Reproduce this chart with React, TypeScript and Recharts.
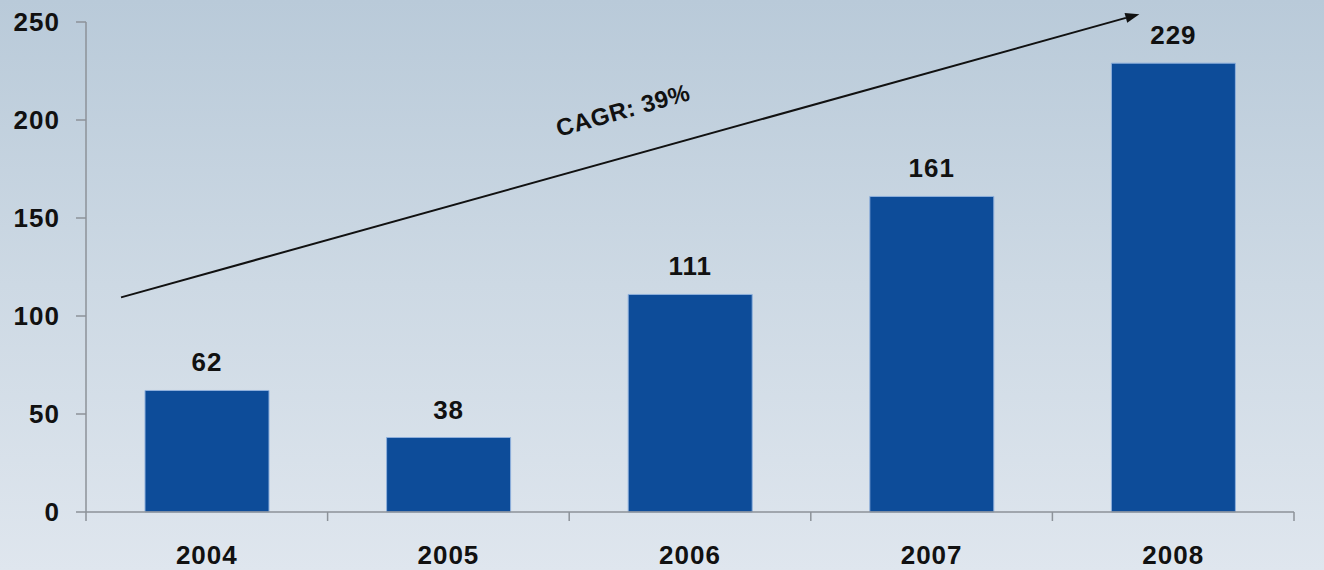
import React from "react";
import {
  ComposedChart,
  Bar,
  XAxis,
  YAxis,
  LabelList,
  ReferenceLine,
} from "recharts";

const years = ["2004", "2005", "2006", "2007", "2008"];
const values = [62, 38, 111, 161, 229];
const yTicks = [0, 50, 100, 150, 200, 250];
// centres carry the year labels, half-steps are the boundary tick marks
const xTicks = [-0.5, 0, 0.5, 1, 1.5, 2, 2.5, 3, 3.5, 4, 4.5];
// CAGR arrow, in (category position, value) units
const arrowFrom = { x: -0.355, y: 109.5 };
const arrowTo = { x: 3.86, y: 254 };
const arrowLabel = "CAGR: 39%";

const data = years.map((year, i) => ({ idx: i, year, value: values[i] }));

const FONT = '"Liberation Sans", Arial, sans-serif';
const AXIS = "#8c9299";

function XTick(props: any) {
  const { x, y, payload } = props;
  const v = payload.value;
  if (Number.isInteger(v)) {
    return (
      <text
        x={x}
        y={y + 52}
        textAnchor="middle"
        fontFamily={FONT}
        fontWeight="bold"
        fontSize={26}
        letterSpacing={1}
        fill="#111"
      >
        {years[v]}
      </text>
    );
  }
  return <line x1={x} y1={y} x2={x} y2={y + 9} stroke={AXIS} strokeWidth={1.5} />;
}

function ArrowShape(props: any) {
  const { x1, y1, x2, y2 } = props;
  if ([x1, y1, x2, y2].some((v) => v == null || isNaN(v))) return null;
  const ang = Math.atan2(y2 - y1, x2 - x1);
  const len = 14;
  const half = 5;
  const bx = x2 - len * Math.cos(ang);
  const by = y2 - len * Math.sin(ang);
  const px = -Math.sin(ang);
  const py = Math.cos(ang);
  const pts = `${x2},${y2} ${bx + px * half},${by + py * half} ${bx - px * half},${by - py * half}`;
  const t = 0.505;
  const lx = x1 + (x2 - x1) * t - px * 46;
  const ly = y1 + (y2 - y1) * t - py * 46;
  const deg = (ang * 180) / Math.PI;
  return (
    <g>
      <line x1={x1} y1={y1} x2={bx} y2={by} stroke="#111" strokeWidth={2} />
      <polygon points={pts} fill="#111" />
      <text
        x={lx}
        y={ly}
        transform={`rotate(${deg} ${lx} ${ly})`}
        textAnchor="middle"
        dominantBaseline="central"
        fontFamily={FONT}
        fontWeight="bold"
        fontSize={24}
        letterSpacing={0.5}
        fill="#111"
      >
        {arrowLabel}
      </text>
    </g>
  );
}

export default function App() {
  return (
    <div
      style={{
        position: "absolute",
        left: 0,
        top: 0,
        width: 1324,
        height: 570,
        background: "linear-gradient(to bottom, #b9cad9 0%, #cdd9e4 50%, #dfe6ee 100%)",
      }}
    >
      <ComposedChart
        width={1324}
        height={570}
        data={data}
        margin={{ top: 22, right: 30, bottom: 0, left: 0 }}
      >
        <XAxis
          dataKey="idx"
          type="number"
          domain={[-0.5, 4.5]}
          allowDataOverflow
          ticks={xTicks}
          interval={0}
          tickLine={false}
          tickSize={0}
          tickMargin={0}
          height={58}
          stroke={AXIS}
          strokeWidth={1.5}
          tick={<XTick />}
        />
        <YAxis
          domain={[0, 250]}
          ticks={yTicks}
          width={86}
          tickSize={10}
          tickMargin={16}
          stroke={AXIS}
          strokeWidth={1.5}
          tick={{
            fontFamily: FONT,
            fontWeight: "bold",
            fontSize: 26,
            fill: "#111",
            letterSpacing: 1,
          }}
        />
        <Bar
          dataKey="value"
          fill="#0d4c99"
          stroke="#8fb0dc"
          strokeWidth={1}
          barSize={124}
          isAnimationActive={false}
        >
          <LabelList
            dataKey="value"
            position="top"
            offset={19}
            style={{
              fontFamily: FONT,
              fontWeight: "bold",
              fontSize: 26,
              fill: "#111",
              letterSpacing: 1,
            }}
          />
        </Bar>
        <ReferenceLine
          segment={[arrowFrom, arrowTo]}
          ifOverflow="visible"
          shape={ArrowShape}
        />
      </ComposedChart>
    </div>
  );
}
